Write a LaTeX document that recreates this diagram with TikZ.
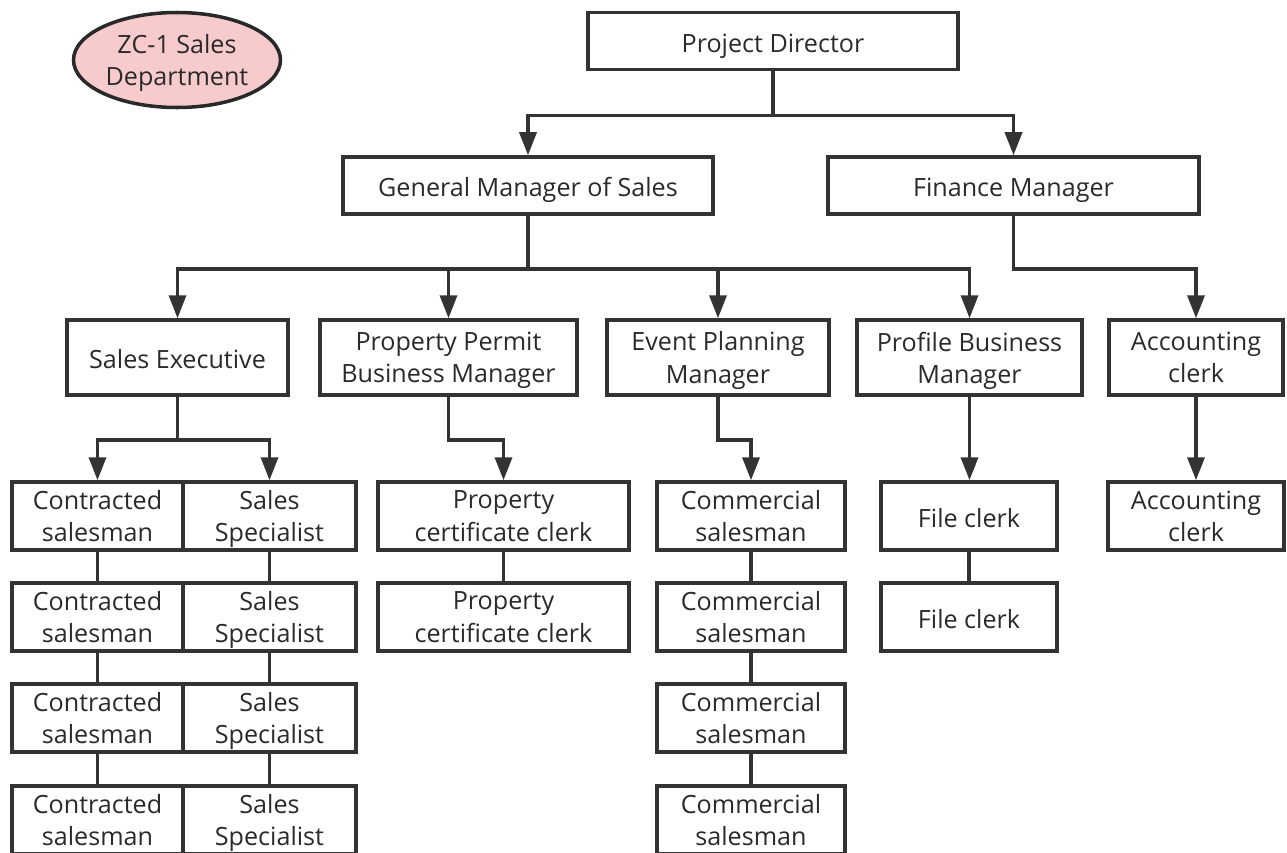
\documentclass[tikz,border=0pt]{standalone}
\usepackage{fontspec}
\setmainfont{Open Sans}
\usetikzlibrary{arrows.meta,shapes.geometric}
\definecolor{linegray}{HTML}{333333}
\definecolor{textgray}{HTML}{2A2A2A}
\definecolor{pinkfill}{HTML}{F7CBCB}
\newcommand\topstrut{\rule{0pt}{12.9pt}}
\tikzset{
  box/.style={draw=linegray, line width=2pt, fill=white, align=center, inner sep=0pt, text=textgray, font=\fontsize{14.3}{18.3}\selectfont, execute at begin node=\topstrut, text depth=0pt},
  sz/.style 2 args={minimum width=#1*0.02cm, minimum height=#2*0.02cm},
  link/.style={draw=linegray, line width=2pt},
  arrow/.style={link, -{Triangle[length=0.46cm,width=0.34cm]}}
}
\begin{document}
\begin{tikzpicture}[x=0.02cm,y=-0.02cm]
\useasboundingbox (0,0) rectangle (1287,852);

\node[box, ellipse, draw=linegray!80!black, fill=pinkfill, sz={207}{95}] (dept) at (177,60) {ZC-1 Sales\\Department};

\node[box, sz={370}{57}] (pd) at (773,41) {Project Director};
\node[box, sz={370}{57}] (gm) at (528,185.5) {General Manager of Sales};
\node[box, sz={371}{57}] (fm) at (1013.5,185.5) {Finance Manager};

\node[box, sz={221}{75}] (se) at (177.5,357.5) {Sales Executive};
\node[box, sz={257}{75}] (ppbm) at (448.5,357.5) {Property Permit\\Business Manager};
\node[box, sz={222}{75}] (epm) at (718,357.5) {Event Planning\\Manager};
\node[box, sz={225}{75}] (pbm) at (969.5,357.5) {Profile Business\\Manager};
\node[box, sz={174}{75}] (acc) at (1196,357.5) {Accounting\\clerk};

\foreach \y [count=\i] in {516,617,718,820} {
  \node[box, sz={171}{68}] (cs\i) at (97.5,\y) {Contracted\\salesman};
  \node[box, sz={173}{68}] (ss\i) at (269.5,\y) {Sales\\Specialist};
  \node[box, sz={188}{68}] (cm\i) at (751,\y) {Commercial\\salesman};
}
\foreach \y [count=\i] in {516,617} {
  \node[box, sz={251}{68}] (pc\i) at (503.5,\y) {Property\\certificate clerk};
  \node[box, sz={176}{68}] (fc\i) at (969,\y) {File clerk};
}
\node[box, sz={176}{68}] (ac) at (1196,516) {Accounting\\clerk};

\draw[arrow] (pd.south) -- ++(0,44) -| (gm.north);
\draw[arrow] (pd.south) -- ++(0,44) -| (fm.north);

\draw[arrow] (gm.south) -- ++(0,53) -| (se.north);
\draw[arrow] (gm.south) -- ++(0,53) -| (ppbm.north);
\draw[arrow] (gm.south) -- ++(0,53) -| (epm.north);
\draw[arrow] (gm.south) -- ++(0,53) -| (pbm.north);
\draw[arrow] (fm.south) -- ++(0,53) -| (acc.north);

\draw[arrow] (se.south) -- ++(0,43) -| (cs1.north);
\draw[arrow] (se.south) -- ++(0,43) -| (ss1.north);
\draw[arrow] (ppbm.south) -- ++(0,43) -| (pc1.north);
\draw[arrow] (epm.south) -- ++(0,43) -| (cm1.north);
\draw[arrow] (pbm.south) -- (pbm.south |- fc1.north);
\draw[arrow] (acc.south) -- (ac.north);

\foreach \a/\b in {cs1/cs2,cs2/cs3,cs3/cs4,ss1/ss2,ss2/ss3,ss3/ss4,cm1/cm2,cm2/cm3,cm3/cm4,pc1/pc2,fc1/fc2}
  \draw[link] (\a.south) -- (\b.north);
\end{tikzpicture}
\end{document}
